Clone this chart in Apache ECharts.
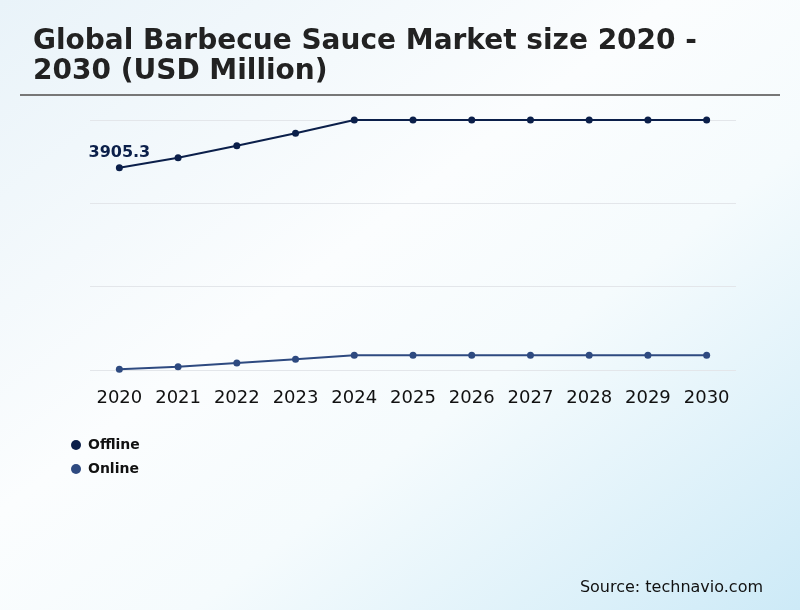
<!DOCTYPE html>
<html>
<head>
<meta charset="utf-8">
<script src="https://cdn.jsdelivr.net/npm/echarts@6/dist/echarts.min.js"></script>
<style>
html,body{margin:0;padding:0;width:800px;height:610px;overflow:hidden;}
body{background:linear-gradient(to bottom right,#e9f3f9 0%,#fbfdfe 42%,#f5fbfd 62%,#cdeaf7 100%);}
#c{width:800px;height:610px;}
</style>
</head>
<body>
<div id="c"></div>
<script>
const years = ['2020','2021','2022','2023','2024','2025','2026','2027','2028','2029','2030'];
const offline = [3905.3, 4044, 4208, 4379, 4560, 4560, 4560, 4560, 4560, 4560, 4560];
const online = [1150, 1184, 1236, 1287, 1342, 1342, 1342, 1342, 1342, 1342, 1342];
const titleText = 'Global Barbecue Sauce Market size 2020 -\n2030 (USD Million)';
const sourceText = 'Source: technavio.com';

const chart = echarts.init(document.getElementById('c'), null, {renderer:'canvas'});
chart.setOption({
  backgroundColor: 'transparent',
  animation: false,
  title: {
    text: titleText,
    left: 28, top: 22,
    textStyle: {fontFamily:'DejaVu Sans', fontWeight:'bold', fontSize:28, color:'#222', lineHeight:30}
  },
  graphic: [
    {type:'line', shape:{x1:20,y1:95,x2:780,y2:95}, style:{stroke:'#777', lineWidth:2}},
    {type:'text', right:37, top:580, style:{text:sourceText, font:'16px "DejaVu Sans"', fill:'#111'}}
  ],
  legend: {
    orient:'vertical', left:66, top:433, itemGap:10,
    icon:'circle', itemWidth:10, itemHeight:10,
    textStyle:{fontFamily:'DejaVu Sans', fontWeight:'bold', fontSize:14, color:'#111', padding:[0,0,0,2]},
    data:['Offline','Online']
  },
  grid: {left:90, right:64, top:120, bottom:240},
  xAxis: {
    type:'category', data: years, boundaryGap:true,
    axisLine:{show:false}, axisTick:{show:false},
    axisLabel:{interval:0, fontFamily:'DejaVu Sans', fontSize:18, color:'#111', margin:19}
  },
  yAxis: {
    type:'value', min:1140, max:4560, interval:1140,
    axisLabel:{show:false}, axisLine:{show:false}, axisTick:{show:false},
    splitLine:{lineStyle:{color:'#e3e6ea', width:1}}
  },
  series: [
    {name:'Offline', type:'line', data: offline, symbol:'circle', symbolSize:7,
     itemStyle:{color:'#0b1f4a'}, lineStyle:{color:'#0b1f4a', width:2},
     label:{show:true, position:'top', distance:4, fontFamily:'DejaVu Sans', fontWeight:'bold', fontSize:16, color:'#0b1f4a',
       formatter: p => p.dataIndex === 0 ? p.value : ''}},
    {name:'Online', type:'line', data: online, symbol:'circle', symbolSize:7,
     itemStyle:{color:'#2e4a80'}, lineStyle:{color:'#2e4a80', width:2}}
  ]
});
</script>
</body>
</html>
